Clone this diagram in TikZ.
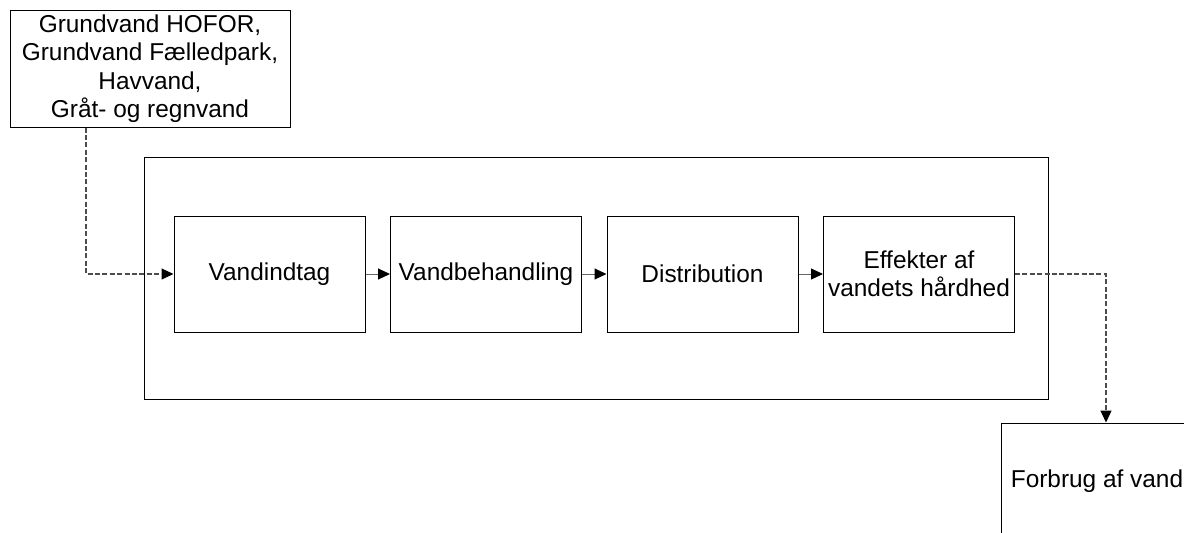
\documentclass[tikz,border=0pt]{standalone}
\usepackage{fontspec}
\setmainfont{Liberation Sans}
\usepackage{tikz}
\usetikzlibrary{positioning, arrows.meta}

\begin{document}
\begin{tikzpicture}[x=0.5pt, y=-0.5pt, node distance=108.25pt, on grid, >={Triangle[length=6pt, width=5.5pt, color=black]},
    font=\fontsize{12.2}{14.2}\selectfont, line width=0.5pt]
      \tikzset{stage/.style={draw, minimum width=95.5pt, minimum height=58pt, inner sep=1pt, align=center},
               flow/.style={->, draw=black!70, line width=0.6pt, dash pattern=on 2.5pt off 1.2pt}}
      \useasboundingbox (0,0) rectangle (1184,532);
      \node[draw, minimum width=140pt, minimum height=58.5pt, inner sep=0pt, align=center] (src) at (150,68.5)
            {Grundvand HOFOR,\\Grundvand Fælledpark,\\Havvand,\\Gråt- og regnvand};
      \draw (144,157) rectangle (1048,399);
      \node[stage] (intake) at (269.5,274) {Vandindtag};
      \node[stage, right=of intake] (treat) {Vandbehandling};
      \node[stage, right=of treat] (dist) {Distribution};
      \node[stage, right=of dist] (hard) {Effekter af\\vandets hårdhed};
      \node[stage] (use) at (1097,481) {Forbrug af vand};
      \coordinate (bend) at (1106,274);
      \draw[->, draw=black!60] (intake) -- (treat);
      \draw[->, draw=black!60] (treat) -- (dist);
      \draw[->, draw=black!60] (dist) -- (hard);
      \draw[flow] (src.south -| 86,0) |- (intake.west);
      \draw[flow] (hard.east) -- (bend) -- (bend |- use.north);
    \end{tikzpicture}
\end{document}
